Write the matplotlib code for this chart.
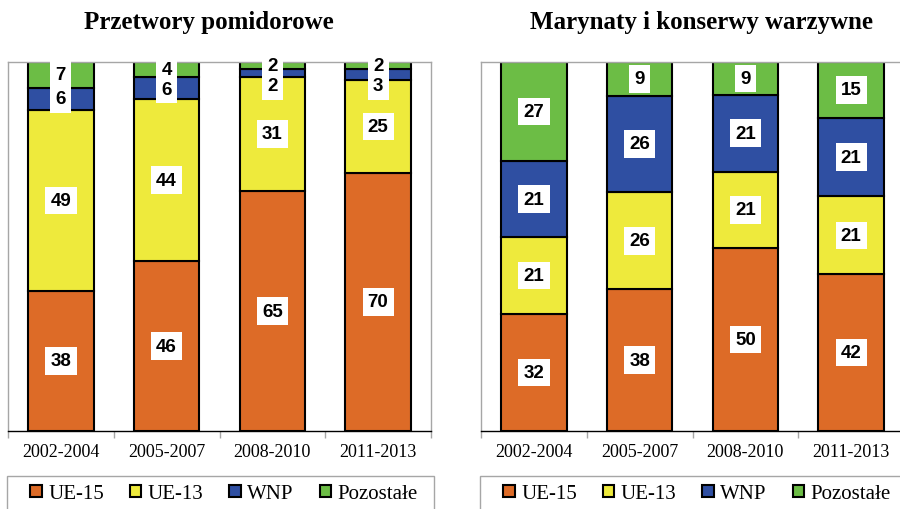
import numpy as np
import matplotlib.pyplot as plt
from matplotlib.patches import Rectangle

periods = ["2002-2004", "2005-2007", "2008-2010", "2011-2013"]
groups = ["UE-15", "UE-13", "WNP", "Pozostałe"]
colors = ["#DD6B27", "#EEEA3C", "#2F4FA2", "#6CBD45"]

# udzialy (%) w kolejnych okresach
tomato_title = "Przetwory pomidorowe"
tomato_ue15 = [38, 46, 65, 70]
tomato_ue13 = [49, 44, 31, 25]
tomato_wnp = [6, 6, 2, 3]
tomato_other = [7, 4, 2, 2]

pickles_title = "Marynaty i konserwy warzywne"
pickles_ue15 = [32, 38, 50, 42]
pickles_ue13 = [21, 26, 21, 21]
pickles_wnp = [21, 26, 21, 21]
pickles_other = [27, 9, 9, 15]

W, H = 900, 510
SERIF = "Liberation Serif"
SANS = "Liberation Sans"
GRAY = "#A6A6A6"


def draw_panel(ax, series):
    data = np.array(series, dtype=float)
    # 100% stacked: each column scaled to its own total
    shares = data / data.sum(axis=0) * 100
    x = np.arange(len(periods))
    bottom = np.zeros(len(periods))
    centers = []
    for share, color in zip(shares, colors):
        ax.bar(x, share, 0.62, bottom=bottom, color=color,
               edgecolor="black", linewidth=1.5, zorder=2)
        centers.append(bottom + share / 2)
        bottom = bottom + share

    # labels from the top segment down, thin segments pushed apart
    prev = np.full(len(periods), np.inf)
    for vals, ypos in zip(data[::-1], centers[::-1]):
        ypos = np.minimum(ypos, prev - 5.5)
        for xi, v, y in zip(x, vals, ypos):
            ax.text(xi, y, f"{v:.0f}", ha="center", va="center",
                    fontsize=13.5, fontweight="bold", family=SANS, zorder=3,
                    bbox=dict(boxstyle="square,pad=0.28", fc="white", ec="none"))
        prev = ypos

    ax.set_xlim(-0.5, 3.5)
    ax.set_ylim(0, 100)
    ax.set_yticks([])
    ax.set_xticks(x, periods, fontsize=13, family=SERIF)
    ax.set_xticks(np.arange(-0.5, 4, 1), minor=True)
    ax.tick_params(axis="x", which="major", length=0, pad=9)
    ax.tick_params(axis="x", which="minor", length=5, width=1, color=GRAY)
    for side in ["left", "top", "right"]:
        ax.spines[side].set_color(GRAY)
        ax.spines[side].set_linewidth(1)
    ax.spines["bottom"].set_color("black")
    ax.spines["bottom"].set_linewidth(1)


def add_legend(fig, left, right, xc):
    fig.patches.append(Rectangle((left / W, -0.1), (right - left) / W, 0.1 + (H - 477) / H,
                                 transform=fig.transFigure, fill=False,
                                 edgecolor=GRAY, linewidth=1))
    handles = [Rectangle((0, 0), 1, 1, facecolor=c, edgecolor="black", linewidth=1.5)
               for c in colors]
    fig.legend(handles, groups, loc="center", bbox_to_anchor=(xc / W, 1 - 495 / H),
               ncol=4, frameon=False, prop={"family": SERIF, "size": 15},
               handlelength=0.55, handleheight=0.55, handletextpad=0.3,
               columnspacing=1.25)


fig = plt.figure(figsize=(W / 100, H / 100), dpi=100)

ax1 = fig.add_axes([8 / W, 1 - 432 / H, 423 / W, 369 / H])
draw_panel(ax1, [tomato_ue15, tomato_ue13, tomato_wnp, tomato_other])

ax2 = fig.add_axes([481 / W, 1 - 432 / H, 423 / W, 369 / H])
draw_panel(ax2, [pickles_ue15, pickles_ue13, pickles_wnp, pickles_other])

fig.text(209 / W, 1 - 22 / H, tomato_title, ha="center", va="center",
         fontsize=18, fontweight="bold", family=SERIF)
fig.text(701 / W, 1 - 22 / H, pickles_title, ha="center", va="center",
         fontsize=18, fontweight="bold", family=SERIF)

add_legend(fig, 7, 434, 224)
add_legend(fig, 480, 950, 697)

fig.savefig("out.png", dpi=100)
